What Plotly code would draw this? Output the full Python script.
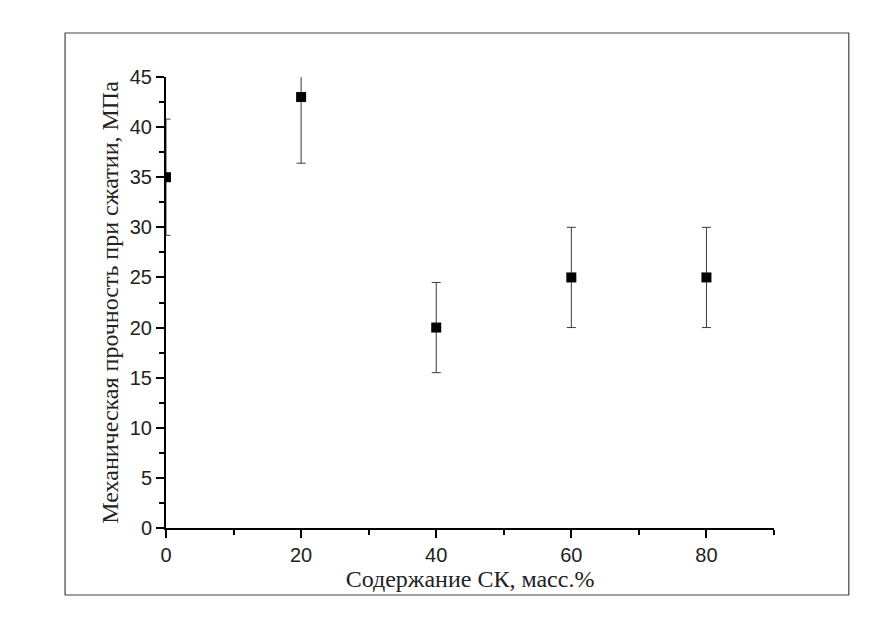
import plotly.graph_objects as go

content = [0, 20, 40, 60, 80]
strength = [35, 43, 20, 25, 25]
err = [5.8, 6.6, 4.5, 5, 5]

x_title = "Содержание СК, масс.%"
y_title = "Механическая прочность при сжатии, МПа"
x_ticks = [0, 20, 40, 60, 80]
y_ticks = [0, 5, 10, 15, 20, 25, 30, 35, 40, 45]

fig = go.Figure()
fig.add_trace(go.Scatter(
    x=content, y=strength, mode="markers",
    marker=dict(symbol="square", size=10, color="black"),
    error_y=dict(type="data", array=err, visible=True, color="#3a3a3a", thickness=1, width=4.5),
    cliponaxis=True, showlegend=False,
))

axis_common = dict(showline=True, linecolor="black", linewidth=2, showgrid=False, zeroline=False,
                   ticks="outside", ticklen=8, tickwidth=1.5, tickcolor="black",
                   tickfont=dict(family="Liberation Sans, Arial", size=20, color="#222"),
                   mirror=False)

fig.update_layout(
    width=880, height=624,
    margin=dict(l=166, r=106, t=77, b=96),
    paper_bgcolor="white", plot_bgcolor="white",
    xaxis=dict(range=[0, 90], tickvals=x_ticks,
               minor=dict(tickvals=[10, 30, 50, 70, 90], ticks="outside", ticklen=5, tickwidth=1.5, tickcolor="black"),
               title=dict(text=x_title, font=dict(family="Liberation Serif, Times New Roman", size=24, color="#222"), standoff=2),
               **axis_common),
    yaxis=dict(range=[0, 45], tickvals=y_ticks,
               minor=dict(tickvals=[2.5 + 5 * i for i in range(9)], ticks="outside", ticklen=5, tickwidth=1.5, tickcolor="black"),
               title=dict(text=y_title, font=dict(family="Liberation Serif, Times New Roman", size=24, color="#222"), standoff=4),
               **axis_common),
    shapes=[dict(type="rect", xref="paper", yref="paper",
                 x0=-0.166, x1=1.123, y0=-0.1486, y1=1.0976,
                 line=dict(color="#444", width=1.2), layer="below")],
)

fig.write_html("out.html")
